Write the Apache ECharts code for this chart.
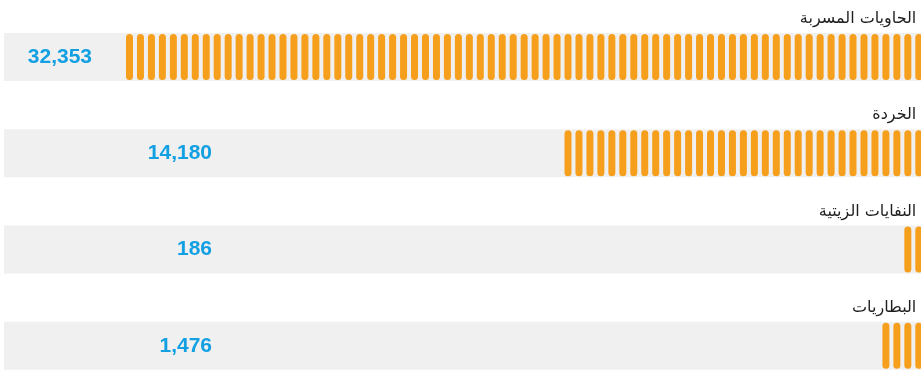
<!DOCTYPE html>
<html>
<head>
<meta charset="utf-8">
<style>
  html, body { margin: 0; padding: 0; overflow: hidden; background: #ffffff; }
  #chart { width: 921px; height: 372px; }
</style>
<script src="https://cdn.jsdelivr.net/npm/echarts@6/dist/echarts.min.js"></script>
</head>
<body>
<div id="chart"></div>
<script>
// Waste categories (top to bottom) and their quantities
const categories = ['الحاويات المسربة', 'الخردة', 'النفايات الزيتية', 'البطاريات'];
const values = [32353, 14180, 186, 1476];

const BAR_COLOR = '#f59f1c';
const VALUE_COLOR = '#12a0e3';
const BAND_COLOR = '#f0f0f0';
const AXIS_MAX = 37310;      // value-axis extent (bars grow right to left)
const LABEL_RIGHT = 212;     // preferred right edge of the value labels
const LABEL_GAP = 34;        // minimum gap between a value label and its bar

// pill-shaped unit mark
const PILL = 'path://M0,3.5A3.5,3.5 0 0 1 7,3.5L7,42.5A3.5,3.5 0 0 1 0,42.5Z';

const chart = echarts.init(document.getElementById('chart'), null, { renderer: 'canvas' });

function buildOption(labelDistances) {
  return {
    animation: false,
    grid: { left: 4, right: -1.3, top: 8.8, height: 385.2, outerBoundsMode: 'none', containLabel: false },
    xAxis: {
      type: 'value', min: 0, max: AXIS_MAX, inverse: true, show: false
    },
    yAxis: {
      type: 'category',
      data: categories,
      inverse: true,
      position: 'right',
      axisLine: { show: false },
      axisTick: { show: false },
      splitLine: { show: false },
      axisLabel: {
        show: true,
        inside: true,
        interval: 0,
        hideOverlap: false,
        margin: 6,
        color: '#1e1e1e',
        fontSize: 16,
        fontFamily: 'DejaVu Sans',
        verticalAlign: 'bottom',
        lineHeight: 20,
        padding: [0, 0, 28, 0]
      },
      z: 10
    },
    series: [
      {
        // grey band behind each row, carrying the value label
        type: 'bar',
        data: values.map((v, i) => ({ value: v, label: { distance: labelDistances[i] } })),
        barWidth: 48,
        itemStyle: { color: 'rgba(0,0,0,0)' },
        showBackground: true,
        backgroundStyle: { color: BAND_COLOR },
        label: {
          show: true,
          position: 'left',
          color: VALUE_COLOR,
          fontSize: 21,
          fontWeight: 'bold',
          fontFamily: 'Liberation Sans, Arial, sans-serif',
          formatter: p => echarts.format.addCommas(p.value)
        },
        silent: true,
        z: 1
      },
      {
        type: 'pictorialBar',
        data: values,
        symbol: PILL,
        symbolSize: [7, 46],
        symbolRepeat: true,
        symbolMargin: 2,
        symbolBoundingData: Math.max(...values),
        barMinHeight: 12,
        itemStyle: { color: BAR_COLOR },
        z: 3
      }
    ]
  };
}

chart.setOption(buildOption(values.map(() => LABEL_GAP)));
const distances = values.map(v => {
  const px = chart.convertToPixel({ xAxisIndex: 0 }, v);
  return Math.max(LABEL_GAP, px - LABEL_RIGHT);
});
chart.setOption(buildOption(distances));
</script>
</body>
</html>
